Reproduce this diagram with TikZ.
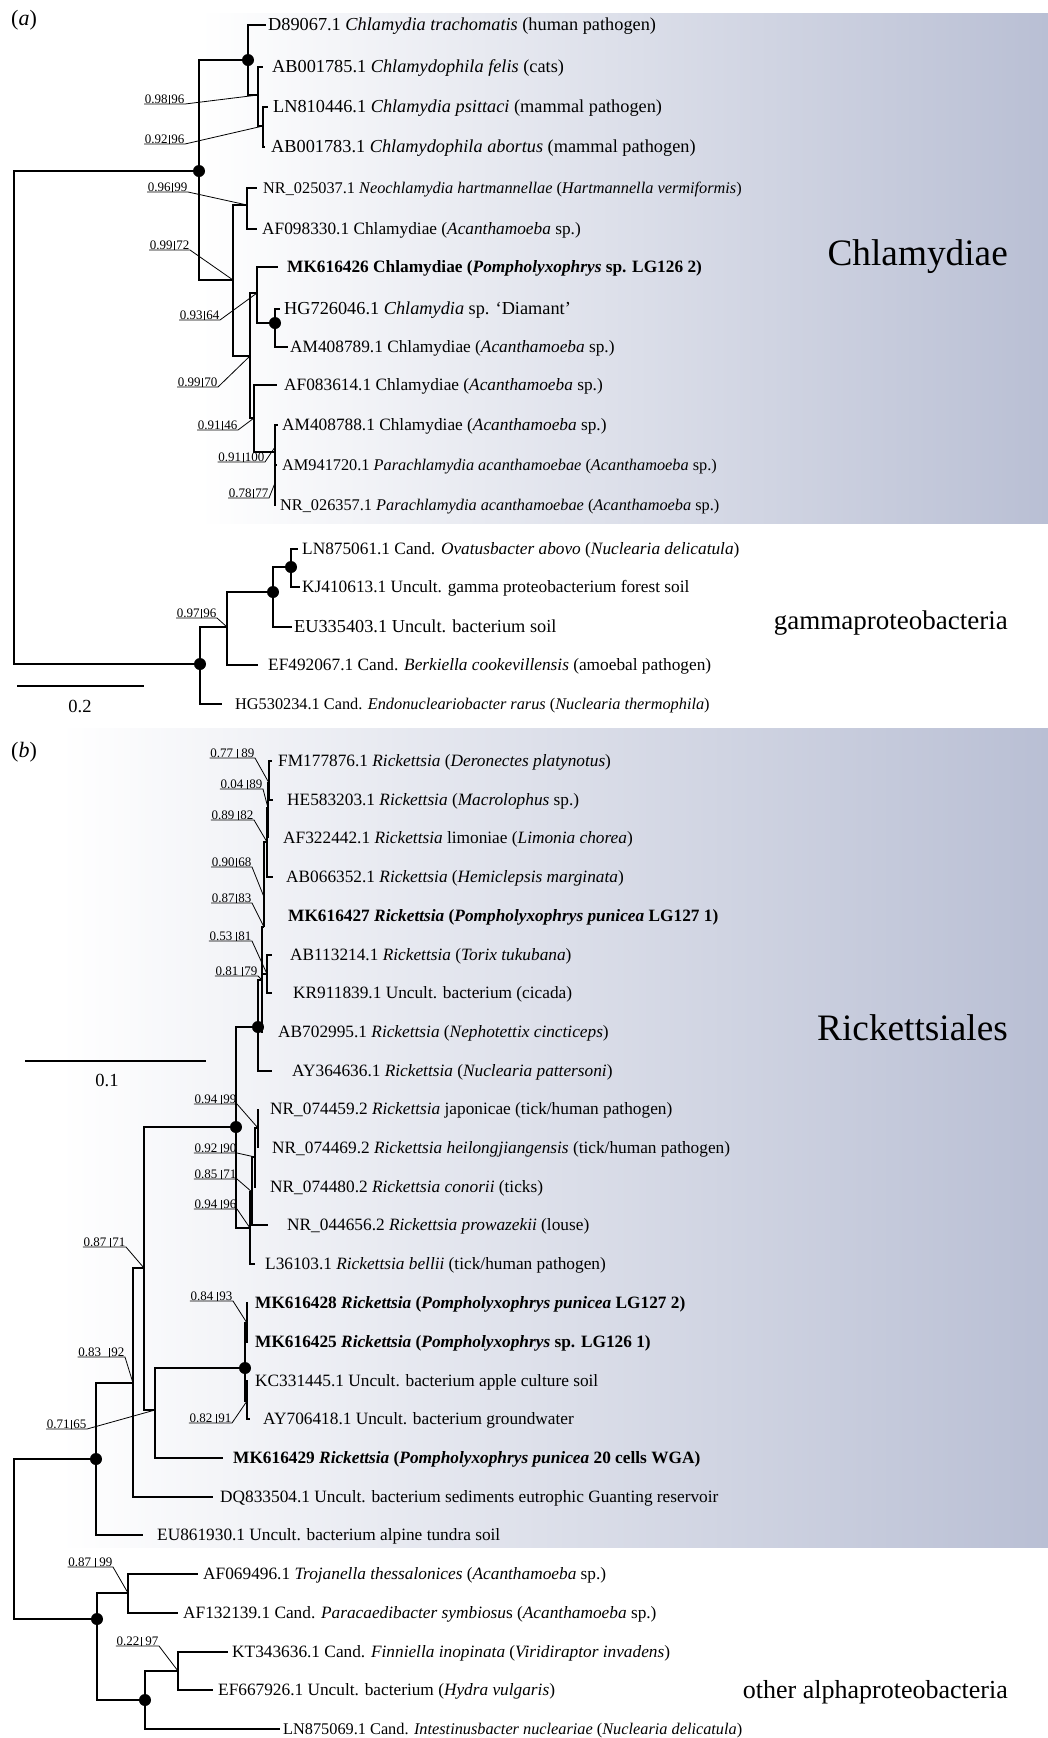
\documentclass[tikz,border=0pt]{standalone}
\usepackage{fontspec}
\setmainfont{Liberation Serif}
\definecolor{cladebg}{RGB}{185,191,212}
\tikzset{
  branch/.style = {line width = 1.1pt},
  lead/.style = {line width = 0.8pt},
  taxon/.style = {
    anchor = west,
    inner ysep = 0pt,
    text height = 12pt,
    text depth = 2pt,
    font = \fontsize{17.3}{19}\selectfont
  },
  taxonL/.style = {taxon, font = \fontsize{18.3}{20}\selectfont},
  taxonS/.style = {taxon, font = \fontsize{16.3}{18}\selectfont},
  tipgap/.style = {inner xsep = #1},
  bs/.style = {
    anchor = south east,
    inner xsep = 0.5pt,
    inner ysep = 0pt,
    font = \fontsize{13}{14}\selectfont
  },
  clade/.style = {anchor = east, inner sep = 0pt},
  panel/.style = {font = \fontsize{22}{24}\selectfont},
  scalelab/.style = {font = \fontsize{18.5}{20}\selectfont},
}
\newcommand{\bsupp}[2]{#1\hspace{1.5pt}\vrule width 0.8pt\hspace{1.5pt}#2}

\begin{document}
\begin{tikzpicture}[x=1pt, y=-1pt]
  \useasboundingbox (0,0) rectangle (1048,1738);
  \shade[left color=white, right color=cladebg] (200,13) rectangle (1048,523);
  \shade[left color=white, right color=cladebg] (60,728) rectangle (1048,1547);

  % (a)
  \node[panel] (pa) at (24,20) {(\textit{a})};
  \coordinate (ra) at (14,417);
  \coordinate (c0) at (199,171);
  \coordinate (c1) at (248,60);
  \coordinate (c2) at (258,95);
  \coordinate (c3) at (263,126);
  \coordinate (c4) at (233,280);
  \coordinate (c5) at (247,205);
  \coordinate (c6) at (250,356);
  \coordinate (c7) at (257,293);
  \coordinate (c8) at (275,323);
  \coordinate (c9) at (254,418);
  \coordinate (c10) at (275,452);
  \coordinate (c10a) at (275,447);
  \coordinate (c10b) at (275,483);
  \coordinate (g0) at (200,664);
  \coordinate (g1) at (227,627);
  \coordinate (g2) at (273,592);
  \coordinate (g3) at (291,567);

  \node[taxonL, tipgap=2pt] (a1) at (266,25) {D89067.1 \textit{Chlamydia trachomatis} (human pathogen)};
  \node[taxonL, tipgap=9pt] (a2) at (263,67) {AB001785.1 \textit{Chlamydophila felis} (cats)};
  \node[taxonL, tipgap=5pt] (a3) at (268,107) {LN810446.1 \textit{Chlamydia psittaci} (mammal pathogen)};
  \node[taxonL, tipgap=6pt] (a4) at (265,147) {AB001783.1 \textit{Chlamydophila abortus} (mammal pathogen)};
  \node[taxonS, tipgap=6pt] (a5) at (257,188) {NR\_025037.1 \textit{Neochlamydia hartmannellae} (\textit{Hartmannella vermiformis})};
  \node[taxon, tipgap=5pt] (a6) at (257,229) {AF098330.1 Chlamydiae (\textit{Acanthamoeba} sp.)};
  \node[taxon, tipgap=9pt] (a7) at (278,267) {\textbf{MK616426 Chlamydiae (\textit{Pompholyxophrys} sp. LG126 2)}};
  \node[taxonL, tipgap=4pt] (a8) at (280,309) {HG726046.1 \textit{Chlamydia} sp. ‘Diamant’};
  \node[taxon, tipgap=2pt] (a9) at (288,347) {AM408789.1 Chlamydiae (\textit{Acanthamoeba} sp.)};
  \node[taxon, tipgap=7pt] (a10) at (277,385) {AF083614.1 Chlamydiae (\textit{Acanthamoeba} sp.)};
  \node[taxon, tipgap=4pt] (a11) at (278,425) {AM408788.1 Chlamydiae (\textit{Acanthamoeba} sp.)};
  \node[taxonS, tipgap=5pt] (a12) at (277,465) {AM941720.1 \textit{Parachlamydia acanthamoebae} (\textit{Acanthamoeba} sp.)};
  \node[taxonS, tipgap=4pt] (a13) at (276,505) {NR\_026357.1 \textit{Parachlamydia acanthamoebae} (\textit{Acanthamoeba} sp.)};
  \node[taxon, tipgap=4pt] (a14) at (298,549) {LN875061.1 Cand. \textit{Ovatusbacter abovo} (\textit{Nuclearia delicatula})};
  \node[taxon, tipgap=2pt] (a15) at (300,587) {KJ410613.1 Uncult. gamma proteobacterium forest soil};
  \node[taxonL, tipgap=2pt] (a16) at (292,627) {EU335403.1 Uncult. bacterium soil};
  \node[taxon, tipgap=10pt] (a17) at (258,665) {EF492067.1 Cand. \textit{Berkiella cookevillensis} (amoebal pathogen)};
  \node[taxonS, tipgap=13pt] (a18) at (222,704) {HG530234.1 Cand. \textit{Endonucleariobacter rarus} (\textit{Nuclearia thermophila})};

  \draw[branch] (ra) |- (c0);
  \draw[branch] (ra) |- (g0);
  \draw[branch] (c0) |- (c1);
  \draw[branch] (c0) |- (c4);
  \draw[branch] (c1) |- (a1.west);
  \draw[branch] (c1) |- (c2);
  \draw[branch] (c2) |- (a2.west);
  \draw[branch] (c2) |- (c3);
  \draw[branch] (c3) |- (a3.west);
  \draw[branch] (c3) |- (a4.west);
  \draw[branch] (c4) |- (c5);
  \draw[branch] (c4) |- (c6);
  \draw[branch] (c5) |- (a5.west);
  \draw[branch] (c5) |- (a6.west);
  \draw[branch] (c6) |- (c7);
  \draw[branch] (c6) |- (c9);
  \draw[branch] (c7) |- (a7.west);
  \draw[branch] (c7) |- (c8);
  \draw[branch] (c8) |- (a8.west);
  \draw[branch] (c8) |- (a9.west);
  \draw[branch] (c9) |- (a10.west);
  \draw[branch] (c9) |- (c10);
  \draw[branch] (c10) |- (a11.west);
  \draw[branch] (c10) |- (a12.west);
  \draw[branch] (c10) |- (a13.west);
  \draw[branch] (g0) |- (g1);
  \draw[branch] (g0) |- (a18.west);
  \draw[branch] (g1) |- (g2);
  \draw[branch] (g1) |- (a17.west);
  \draw[branch] (g2) |- (g3);
  \draw[branch] (g2) |- (a16.west);
  \draw[branch] (g3) |- (a14.west);
  \draw[branch] (g3) |- (a15.west);

  \node[bs] (s1) at (185,104) {\bsupp{0.98}{96}};
  \node[bs] (s2) at (185,144) {\bsupp{0.92}{96}};
  \node[bs] (s3) at (188,192) {\bsupp{0.96}{99}};
  \node[bs] (s4) at (190,250) {\bsupp{0.99}{72}};
  \node[bs] (s5) at (220,320) {\bsupp{0.93}{64}};
  \node[bs] (s6) at (218,387) {\bsupp{0.99}{70}};
  \node[bs] (s7) at (238,430) {\bsupp{0.91}{46}};
  \node[bs] (s8) at (265,462) {\bsupp{0.91}{100}};
  \node[bs] (s9) at (269,498) {\bsupp{0.78}{77}};
  \node[bs] (s10) at (217,618) {\bsupp{0.97}{96}};
  \draw[lead] (s1.south west) -- (s1.south east) -- (c2);
  \draw[lead] (s2.south west) -- (s2.south east) -- (c3);
  \draw[lead] (s3.south west) -- (s3.south east) -- (c5);
  \draw[lead] (s4.south west) -- (s4.south east) -- (c4);
  \draw[lead] (s5.south west) -- (s5.south east) -- (c7);
  \draw[lead] (s6.south west) -- (s6.south east) -- (c6);
  \draw[lead] (s7.south west) -- (s7.south east) -- (c9);
  \draw[lead] (s8.south west) -- (s8.south east) -- (c10a);
  \draw[lead] (s9.south west) -- (s9.south east) -- (c10b);
  \draw[lead] (s10.south west) -- (s10.south east) -- (g1);

  \node[clade, font=\fontsize{37.3}{40}\selectfont] (chl) at (1008,257) {Chlamydiae};
  \node[clade, font=\fontsize{27}{29}\selectfont] (gam) at (1008,623) {gammaproteobacteria};

  \coordinate (sa1) at (17,686);
  \coordinate (sa2) at (144,686);
  \draw[branch] (sa1) -- (sa2);
  \node[scalelab] (sal) at (80,706) {0.2};

  % (b)
  \node[panel] (pb) at (24,752) {(\textit{b})};
  \coordinate (rb) at (14,1539);
  \coordinate (k0) at (96,1459);
  \coordinate (k1) at (133,1383);
  \coordinate (k2) at (144,1268);
  \coordinate (m0) at (155,1410);
  \coordinate (m1) at (245,1368);
  \coordinate (m2) at (247,1323);
  \coordinate (m3) at (247,1401);
  \coordinate (p0) at (236,1127);
  \coordinate (q0) at (250,1228);
  \coordinate (q1) at (252,1192);
  \coordinate (q2) at (255,1157);
  \coordinate (q3) at (258,1128);
  \coordinate (r0) at (258,1027);
  \coordinate (r1) at (262,980);
  \coordinate (r2) at (267,974);
  \coordinate (r3) at (264,927);
  \coordinate (r4) at (264,897);
  \coordinate (r5) at (267,842);
  \coordinate (r6) at (268,808);
  \coordinate (r7) at (269,783);
  \coordinate (ao) at (97,1619);
  \coordinate (t0) at (128,1593);
  \coordinate (v0) at (145,1700);
  \coordinate (w0) at (178,1671);

  \node[taxon, tipgap=6pt] (b1) at (272,761) {FM177876.1 \textit{Rickettsia} (\textit{Deronectes platynotus})};
  \node[taxon, tipgap=14pt] (b2) at (273,800) {HE583203.1 \textit{Rickettsia} (\textit{Macrolophus} sp.)};
  \node[taxon, tipgap=15pt] (b3) at (268,838) {AF322442.1 \textit{Rickettsia} limoniae (\textit{Limonia chorea})};
  \node[taxon, tipgap=13pt] (b4) at (273,877) {AB066352.1 \textit{Rickettsia} (\textit{Hemiclepsis marginata})};
  \node[taxon, tipgap=24pt] (b5) at (264,916) {\textbf{MK616427 \textit{Rickettsia} (\textit{Pompholyxophrys punicea} LG127 1)}};
  \node[taxon, tipgap=18pt] (b6) at (272,955) {AB113214.1 \textit{Rickettsia} (\textit{Torix tukubana})};
  \node[taxon, tipgap=21pt] (b7) at (272,993) {KR911839.1 Uncult. bacterium (cicada)};
  \node[taxon, tipgap=15pt] (b8) at (263,1032) {AB702995.1 \textit{Rickettsia} (\textit{Nephotettix cincticeps})};
  \node[taxon, tipgap=20pt] (b9) at (272,1071) {AY364636.1 \textit{Rickettsia} (\textit{Nuclearia pattersoni})};
  \node[taxon, tipgap=12pt] (b10) at (258,1109) {NR\_074459.2 \textit{Rickettsia} japonicae (tick/human pathogen)};
  \node[taxon, tipgap=14pt] (b11) at (258,1148) {NR\_074469.2 \textit{Rickettsia heilongjiangensis} (tick/human pathogen)};
  \node[taxon, tipgap=14pt] (b12) at (256,1187) {NR\_074480.2 \textit{Rickettsia conorii} (ticks)};
  \node[taxon, tipgap=19pt] (b13) at (268,1225) {NR\_044656.2 \textit{Rickettsia prowazekii} (louse)};
  \node[taxon, tipgap=10pt] (b14) at (255,1264) {L36103.1 \textit{Rickettsia bellii} (tick/human pathogen)};
  \node[taxon, tipgap=7pt] (b15) at (248,1303) {\textbf{MK616428 \textit{Rickettsia} (\textit{Pompholyxophrys punicea} LG127 2)}};
  \node[taxon, tipgap=7pt] (b16) at (248,1342) {\textbf{MK616425 \textit{Rickettsia} (\textit{Pompholyxophrys} sp. LG126 1)}};
  \node[taxon, tipgap=7pt] (b17) at (248,1381) {KC331445.1 Uncult. bacterium apple culture soil};
  \node[taxon, tipgap=13pt] (b18) at (250,1419) {AY706418.1 Uncult. bacterium groundwater};
  \node[taxon, tipgap=10pt] (b19) at (223,1458) {\textbf{MK616429 \textit{Rickettsia} (\textit{Pompholyxophrys punicea} 20 cells WGA)}};
  \node[taxon, tipgap=7pt] (b20) at (213,1497) {DQ833504.1 Uncult. bacterium sediments eutrophic Guanting reservoir};
  \node[taxon, tipgap=14pt] (b21) at (143,1535) {EU861930.1 Uncult. bacterium alpine tundra soil};
  \node[taxon, tipgap=5pt] (b22) at (198,1574) {AF069496.1 \textit{Trojanella thessalonices} (\textit{Acanthamoeba} sp.)};
  \node[taxon, tipgap=5pt] (b23) at (178,1613) {AF132139.1 Cand. \textit{Paracaedibacter symbiosu}s (\textit{Acanthamoeba} sp.)};
  \node[taxon, tipgap=4pt] (b24) at (228,1652) {KT343636.1 Cand. \textit{Finniella inopinata} (\textit{Viridiraptor invadens})};
  \node[taxon, tipgap=5pt] (b25) at (213,1690) {EF667926.1 Uncult. bacterium (\textit{Hydra vulgaris})};
  \node[taxonS, tipgap=3pt] (b26) at (280,1729) {LN875069.1 Cand. \textit{Intestinusbacter nucleariae} (\textit{Nuclearia delicatula})};

  \draw[branch] (rb) |- (k0);
  \draw[branch] (rb) |- (ao);
  \draw[branch] (k0) |- (k1);
  \draw[branch] (k0) |- (b21.west);
  \draw[branch] (k1) |- (k2);
  \draw[branch] (k1) |- (b20.west);
  \draw[branch] (k2) |- (p0);
  \draw[branch] (k2) |- (m0);
  \draw[branch] (m0) |- (m1);
  \draw[branch] (m0) |- (b19.west);
  \draw[branch] (m1) |- (m2);
  \draw[branch] (m1) |- (m3);
  \draw[branch] (m2) |- (b15.west);
  \draw[branch] (m2) |- (b16.west);
  \draw[branch] (m3) |- (b17.west);
  \draw[branch] (m3) |- (b18.west);
  \draw[branch] (p0) |- (r0);
  \draw[branch] (p0) |- (q0);
  \draw[branch] (q0) |- (q1);
  \draw[branch] (q0) |- (b14.west);
  \draw[branch] (q1) |- (q2);
  \draw[branch] (q1) |- (b13.west);
  \draw[branch] (q2) |- (q3);
  \draw[branch] (q2) |- (b12.west);
  \draw[branch] (q3) |- (b10.west);
  \draw[branch] (q3) |- (b11.west);
  \draw[branch] (r0) |- (r1);
  \draw[branch] (r0) |- (b9.west);
  \draw[branch] (r1) |- (r3);
  \draw[branch] (r1) |- (r2);
  \draw[branch] (r1) |- (b8.west);
  \draw[branch] (r2) |- (b6.west);
  \draw[branch] (r2) |- (b7.west);
  \draw[branch] (r3) -- (r4);
  \draw[branch] (r4) |- (r5);
  \draw[branch] (r4) |- (b5.west);
  \draw[branch] (r5) |- (r6);
  \draw[branch] (r5) |- (b4.west);
  \draw[branch] (r6) |- (r7);
  \draw[branch] (r6) |- (b3.west);
  \draw[branch] (r7) |- (b1.west);
  \draw[branch] (r7) |- (b2.west);
  \draw[branch] (ao) |- (t0);
  \draw[branch] (ao) |- (v0);
  \draw[branch] (t0) |- (b22.west);
  \draw[branch] (t0) |- (b23.west);
  \draw[branch] (v0) |- (w0);
  \draw[branch] (v0) |- (b26.west);
  \draw[branch] (w0) |- (b24.west);
  \draw[branch] (w0) |- (b25.west);

  \node[bs] (u1) at (255,758) {\bsupp{0.77\,}{\,89}};
  \node[bs] (u2) at (263,789) {\bsupp{0.04\,}{89}};
  \node[bs] (u3) at (254,820) {\bsupp{0.89\,}{82}};
  \node[bs] (u4) at (252,867) {\bsupp{0.90}{68}};
  \node[bs] (u5) at (252,903) {\bsupp{0.87}{83}};
  \node[bs] (u6) at (252,941) {\bsupp{0.53\,}{81}};
  \node[bs] (u7) at (258,976) {\bsupp{0.81\,}{79}};
  \node[bs] (u8) at (237,1104) {\bsupp{0.94\,}{99}};
  \node[bs] (u9) at (237,1153) {\bsupp{0.92\,}{90}};
  \node[bs] (u10) at (237,1179) {\bsupp{0.85\,}{71}};
  \node[bs] (u11) at (237,1209) {\bsupp{0.94\,}{96}};
  \node[bs] (u12) at (126,1247) {\bsupp{0.87\,}{71}};
  \node[bs] (u13) at (233,1301) {\bsupp{0.84\,}{93}};
  \node[bs] (u14) at (232,1423) {\bsupp{0.82\,}{91}};
  \node[bs] (u15) at (125,1357) {\bsupp{0.83\enspace}{92}};
  \node[bs] (u16) at (87,1429) {\bsupp{0.71}{65}};
  \node[bs] (u17) at (113,1567) {\bsupp{0.87\,}{\,99}};
  \node[bs] (u18) at (159,1646) {\bsupp{0.22}{\,97}};
  \draw[lead] (u1.south west) -- (u1.south east) -- (r7);
  \draw[lead] (u2.south west) -- (u2.south east) -- (r6);
  \draw[lead] (u3.south west) -- (u3.south east) -- (r5);
  \draw[lead] (u4.south west) -- (u4.south east) -- (r4);
  \draw[lead] (u5.south west) -- (u5.south east) -- (r3);
  \draw[lead] (u6.south west) -- (u6.south east) -- (r2);
  \draw[lead] (u7.south west) -- (u7.south east) -- (r1);
  \draw[lead] (u8.south west) -- (u8.south east) -- (q3);
  \draw[lead] (u9.south west) -- (u9.south east) -- (q2);
  \draw[lead] (u10.south west) -- (u10.south east) -- (q1);
  \draw[lead] (u11.south west) -- (u11.south east) -- (q0);
  \draw[lead] (u12.south west) -- (u12.south east) -- (k2);
  \draw[lead] (u13.south west) -- (u13.south east) -- (m2);
  \draw[lead] (u14.south west) -- (u14.south east) -- (m3);
  \draw[lead] (u15.south west) -- (u15.south east) -- (k1);
  \draw[lead] (u16.south west) -- (u16.south east) -- (m0);
  \draw[lead] (u17.south west) -- (u17.south east) -- (t0);
  \draw[lead] (u18.south west) -- (u18.south east) -- (w0);

  \node[clade, font=\fontsize{37.3}{40}\selectfont] (ric) at (1008,1028) {Rickettsiales};
  \node[clade, font=\fontsize{26}{28}\selectfont] (alp) at (1008,1692) {other alphaproteobacteria};

  \coordinate (sb1) at (25,1061);
  \coordinate (sb2) at (206,1061);
  \draw[branch] (sb1) -- (sb2);
  \node[scalelab] (sbl) at (107,1080) {0.1};

  \foreach \d in {c0,c1,c8,g0,g2,g3,k0,p0,r0,m1,ao,v0}
    \fill (\d) circle[radius=6pt];
\end{tikzpicture}
\end{document}
